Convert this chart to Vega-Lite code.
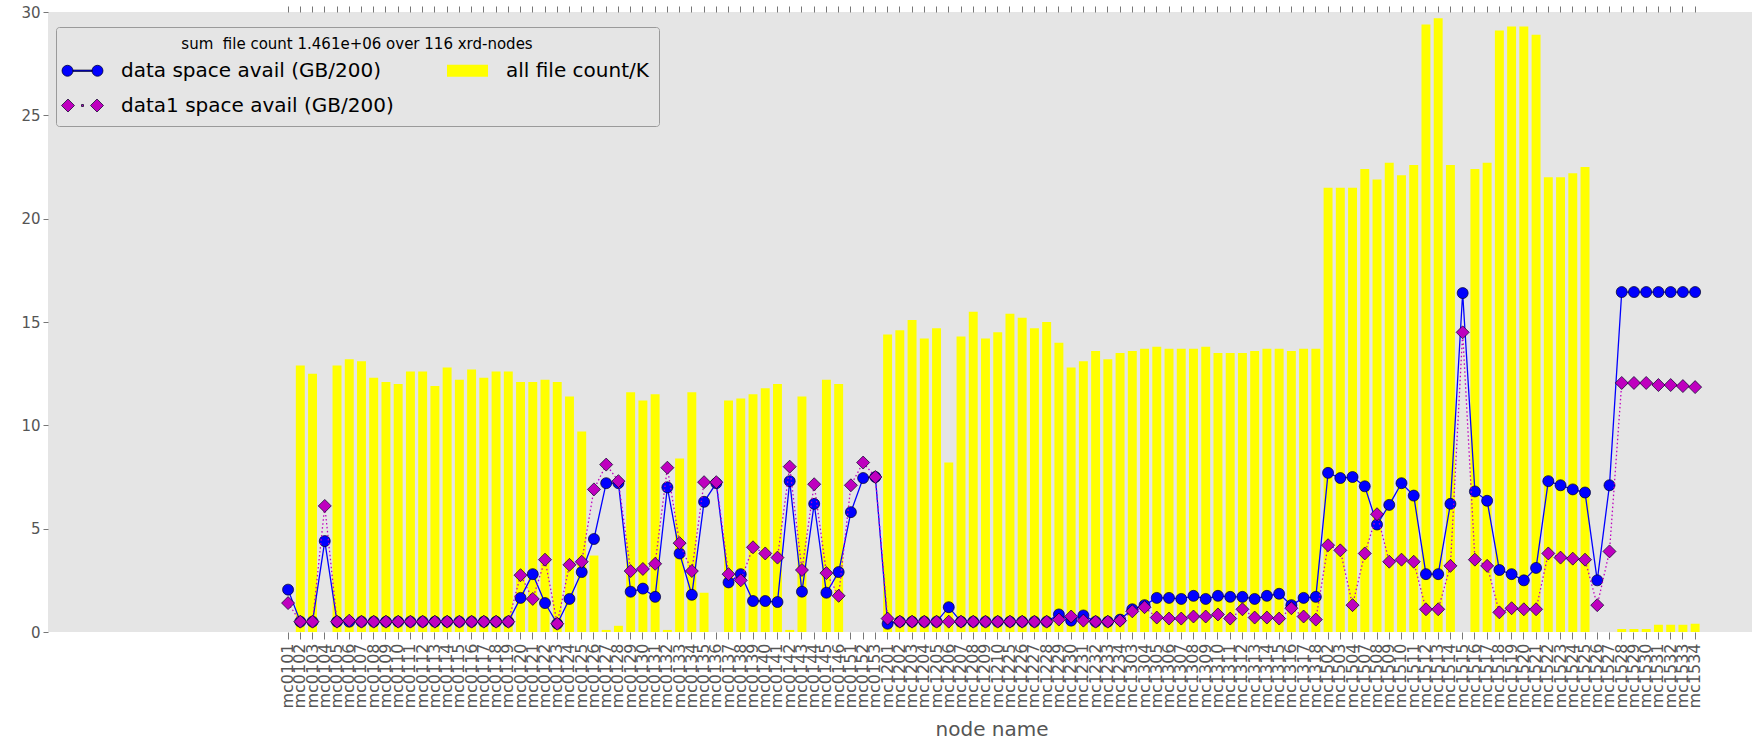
{
  "$schema": "https://vega.github.io/schema/vega-lite/v6.json",
  "width": 1704,
  "height": 620,
  "autosize": {"type": "none"},
  "padding": {"left": 48, "top": 12, "right": 0, "bottom": 112},
  "background": "#ffffff",
  "config": {
    "view": {"fill": "#e5e5e5", "stroke": null},
    "font": "DejaVu Sans",
    "axisX": {"grid": false, "domain": false}
  },
  "data": {"values": [
    {"node": "mc0101", "files": 0, "data": 2.05, "data1": 1.4},
    {"node": "mc0102", "files": 12.9, "data": 0.5, "data1": 0.5},
    {"node": "mc0103", "files": 12.5, "data": 0.5, "data1": 0.5},
    {"node": "mc0104", "files": 0, "data": 4.4, "data1": 6.1},
    {"node": "mc0105", "files": 12.9, "data": 0.5, "data1": 0.5},
    {"node": "mc0106", "files": 13.2, "data": 0.5, "data1": 0.55},
    {"node": "mc0107", "files": 13.1, "data": 0.5, "data1": 0.5},
    {"node": "mc0108", "files": 12.3, "data": 0.5, "data1": 0.5},
    {"node": "mc0109", "files": 12.1, "data": 0.5, "data1": 0.5},
    {"node": "mc0110", "files": 12.0, "data": 0.5, "data1": 0.5},
    {"node": "mc0111", "files": 12.6, "data": 0.5, "data1": 0.5},
    {"node": "mc0112", "files": 12.6, "data": 0.5, "data1": 0.5},
    {"node": "mc0113", "files": 11.9, "data": 0.5, "data1": 0.5},
    {"node": "mc0114", "files": 12.8, "data": 0.5, "data1": 0.5},
    {"node": "mc0115", "files": 12.2, "data": 0.5, "data1": 0.5},
    {"node": "mc0116", "files": 12.7, "data": 0.5, "data1": 0.5},
    {"node": "mc0117", "files": 12.3, "data": 0.5, "data1": 0.5},
    {"node": "mc0118", "files": 12.6, "data": 0.5, "data1": 0.5},
    {"node": "mc0119", "files": 12.6, "data": 0.5, "data1": 0.5},
    {"node": "mc0120", "files": 12.1, "data": 1.65, "data1": 2.75},
    {"node": "mc0121", "files": 12.1, "data": 2.8, "data1": 1.6},
    {"node": "mc0122", "files": 12.2, "data": 1.4, "data1": 3.5},
    {"node": "mc0123", "files": 12.1, "data": 0.4, "data1": 0.4},
    {"node": "mc0124", "files": 11.4, "data": 1.6, "data1": 3.25},
    {"node": "mc0125", "files": 9.7, "data": 2.9, "data1": 3.4},
    {"node": "mc0126", "files": 3.7, "data": 4.5, "data1": 6.9},
    {"node": "mc0127", "files": 0.1, "data": 7.2, "data1": 8.1},
    {"node": "mc0128", "files": 0.3, "data": 7.2, "data1": 7.3},
    {"node": "mc0129", "files": 11.6, "data": 1.95, "data1": 2.95},
    {"node": "mc0130", "files": 11.2, "data": 2.1, "data1": 3.05},
    {"node": "mc0131", "files": 11.5, "data": 1.7, "data1": 3.3},
    {"node": "mc0132", "files": 0.1, "data": 7.0, "data1": 7.95},
    {"node": "mc0133", "files": 8.4, "data": 3.8, "data1": 4.3},
    {"node": "mc0134", "files": 11.6, "data": 1.8, "data1": 2.95},
    {"node": "mc0135", "files": 1.9, "data": 6.3, "data1": 7.25},
    {"node": "mc0136", "files": 0, "data": 7.2, "data1": 7.25},
    {"node": "mc0137", "files": 11.2, "data": 2.4, "data1": 2.8},
    {"node": "mc0138", "files": 11.3, "data": 2.8, "data1": 2.5},
    {"node": "mc0139", "files": 11.5, "data": 1.5, "data1": 4.1},
    {"node": "mc0140", "files": 11.8, "data": 1.5, "data1": 3.8},
    {"node": "mc0141", "files": 12.0, "data": 1.45, "data1": 3.6},
    {"node": "mc0142", "files": 0.1, "data": 7.3, "data1": 8.0},
    {"node": "mc0143", "files": 11.4, "data": 1.95, "data1": 3.0},
    {"node": "mc0144", "files": 0, "data": 6.2, "data1": 7.15},
    {"node": "mc0145", "files": 12.2, "data": 1.9, "data1": 2.85},
    {"node": "mc0146", "files": 12.0, "data": 2.9, "data1": 1.75},
    {"node": "mc0151", "files": 0, "data": 5.8, "data1": 7.1},
    {"node": "mc0152", "files": 0, "data": 7.45, "data1": 8.2},
    {"node": "mc0153", "files": 0, "data": 7.5, "data1": 7.5},
    {"node": "mc1201", "files": 14.4, "data": 0.4, "data1": 0.65},
    {"node": "mc1202", "files": 14.6, "data": 0.5, "data1": 0.5},
    {"node": "mc1203", "files": 15.1, "data": 0.5, "data1": 0.5},
    {"node": "mc1204", "files": 14.2, "data": 0.5, "data1": 0.5},
    {"node": "mc1205", "files": 14.7, "data": 0.5, "data1": 0.5},
    {"node": "mc1206", "files": 8.2, "data": 1.2, "data1": 0.5},
    {"node": "mc1207", "files": 14.3, "data": 0.5, "data1": 0.5},
    {"node": "mc1208", "files": 15.5, "data": 0.5, "data1": 0.5},
    {"node": "mc1209", "files": 14.2, "data": 0.5, "data1": 0.5},
    {"node": "mc1210", "files": 14.5, "data": 0.5, "data1": 0.5},
    {"node": "mc1225", "files": 15.4, "data": 0.5, "data1": 0.5},
    {"node": "mc1226", "files": 15.2, "data": 0.5, "data1": 0.5},
    {"node": "mc1227", "files": 14.7, "data": 0.5, "data1": 0.5},
    {"node": "mc1228", "files": 15.0, "data": 0.5, "data1": 0.5},
    {"node": "mc1229", "files": 14.0, "data": 0.85, "data1": 0.6},
    {"node": "mc1230", "files": 12.8, "data": 0.55, "data1": 0.75},
    {"node": "mc1231", "files": 13.1, "data": 0.8, "data1": 0.55},
    {"node": "mc1232", "files": 13.6, "data": 0.5, "data1": 0.5},
    {"node": "mc1233", "files": 13.2, "data": 0.5, "data1": 0.5},
    {"node": "mc1234", "files": 13.5, "data": 0.6, "data1": 0.55},
    {"node": "mc1303", "files": 13.6, "data": 1.1, "data1": 1.0},
    {"node": "mc1304", "files": 13.7, "data": 1.3, "data1": 1.2},
    {"node": "mc1305", "files": 13.8, "data": 1.65, "data1": 0.7},
    {"node": "mc1306", "files": 13.7, "data": 1.65, "data1": 0.65},
    {"node": "mc1307", "files": 13.7, "data": 1.6, "data1": 0.65},
    {"node": "mc1308", "files": 13.7, "data": 1.75, "data1": 0.75},
    {"node": "mc1309", "files": 13.8, "data": 1.6, "data1": 0.75},
    {"node": "mc1310", "files": 13.5, "data": 1.75, "data1": 0.85},
    {"node": "mc1311", "files": 13.5, "data": 1.7, "data1": 0.65},
    {"node": "mc1312", "files": 13.5, "data": 1.7, "data1": 1.1},
    {"node": "mc1313", "files": 13.6, "data": 1.6, "data1": 0.7},
    {"node": "mc1314", "files": 13.7, "data": 1.75, "data1": 0.7},
    {"node": "mc1315", "files": 13.7, "data": 1.85, "data1": 0.65},
    {"node": "mc1316", "files": 13.6, "data": 1.3, "data1": 1.15},
    {"node": "mc1317", "files": 13.7, "data": 1.65, "data1": 0.75},
    {"node": "mc1318", "files": 13.7, "data": 1.7, "data1": 0.6},
    {"node": "mc1502", "files": 21.5, "data": 7.7, "data1": 4.2},
    {"node": "mc1503", "files": 21.5, "data": 7.45, "data1": 3.95},
    {"node": "mc1504", "files": 21.5, "data": 7.5, "data1": 1.3},
    {"node": "mc1507", "files": 22.4, "data": 7.05, "data1": 3.8},
    {"node": "mc1508", "files": 21.9, "data": 5.2, "data1": 5.7},
    {"node": "mc1509", "files": 22.7, "data": 6.15, "data1": 3.4},
    {"node": "mc1510", "files": 22.1, "data": 7.2, "data1": 3.5},
    {"node": "mc1511", "files": 22.6, "data": 6.6, "data1": 3.4},
    {"node": "mc1512", "files": 29.4, "data": 2.8, "data1": 1.1},
    {"node": "mc1513", "files": 29.7, "data": 2.8, "data1": 1.1},
    {"node": "mc1514", "files": 22.6, "data": 6.2, "data1": 3.2},
    {"node": "mc1515", "files": 0, "data": 16.4, "data1": 14.5},
    {"node": "mc1516", "files": 22.4, "data": 6.8, "data1": 3.5},
    {"node": "mc1517", "files": 22.7, "data": 6.35, "data1": 3.2},
    {"node": "mc1518", "files": 29.1, "data": 3.0, "data1": 0.95},
    {"node": "mc1519", "files": 29.3, "data": 2.8, "data1": 1.15},
    {"node": "mc1520", "files": 29.3, "data": 2.5, "data1": 1.1},
    {"node": "mc1521", "files": 28.9, "data": 3.1, "data1": 1.1},
    {"node": "mc1522", "files": 22.0, "data": 7.3, "data1": 3.8},
    {"node": "mc1523", "files": 22.0, "data": 7.1, "data1": 3.6},
    {"node": "mc1524", "files": 22.2, "data": 6.9, "data1": 3.55},
    {"node": "mc1525", "files": 22.5, "data": 6.75, "data1": 3.5},
    {"node": "mc1526", "files": 0, "data": 2.5, "data1": 1.3},
    {"node": "mc1527", "files": 0, "data": 7.1, "data1": 3.9},
    {"node": "mc1528", "files": 0.15, "data": 16.45, "data1": 12.05},
    {"node": "mc1529", "files": 0.15, "data": 16.45, "data1": 12.05},
    {"node": "mc1530", "files": 0.15, "data": 16.45, "data1": 12.05},
    {"node": "mc1531", "files": 0.35, "data": 16.45, "data1": 11.95},
    {"node": "mc1532", "files": 0.35, "data": 16.45, "data1": 11.95},
    {"node": "mc1533", "files": 0.35, "data": 16.45, "data1": 11.9},
    {"node": "mc1534", "files": 0.4, "data": 16.45, "data1": 11.85}
  ]},
  "resolve": {"axis": {"x": "independent"}},
  "layer": [
    {
      "mark": {"type": "bar", "opacity": 1},
      "encoding": {
        "x": {"field": "node", "type": "nominal", "sort": null,
          "scale": {"type": "band", "paddingInner": 0.27, "paddingOuter": 0, "range": [235.6, 1651.6], "round": false},
          "axis": {"orient": "bottom", "title": "node name", "labelAngle": -90, "labelFontSize": 16, "labelColor": "#555555", "labelOverlap": false, "labelPadding": 4, "tickSize": 7, "tickColor": "#777777", "titleFontSize": 20, "titleFontWeight": "normal", "titleColor": "#555555", "titlePadding": 11}},
        "y": {"field": "files", "type": "quantitative", "title": null, "scale": {"domain": [0, 30], "nice": false},
          "axis": {"values": [0, 5, 10, 15, 20, 25, 30], "grid": false, "domain": false, "tickSize": 5, "tickColor": "#777777", "labelColor": "#555555", "labelFontSize": 15, "labelPadding": 3}},
        "color": {"datum": "all file count/K", "type": "nominal",
          "scale": {"domain": ["data space avail (GB/200)", "data1 space avail (GB/200)", "all file count/K"], "range": ["#0000ff", "#bf00bf", "#ffff00"]},
          "legend": {
            "title": "sum \u00a0file count 1.461e+06 over 116 xrd-nodes",
            "orient": "none", "legendX": 8, "legendY": 15,
            "columns": 2, "columnPadding": 51, "rowPadding": 14,
            "symbolSize": 400, "symbolOffset": 6, "labelOffset": 28,
            "labelFontSize": 20, "labelColor": "#000000", "labelLimit": 0,
            "titleFontSize": 15, "titleFontWeight": "normal", "titleColor": "#000000", "titleAnchor": "middle", "titlePadding": 8, "titleLimit": 0,
            "padding": 10, "fillColor": "#e5e5e5", "strokeColor": "#9a9a9a", "cornerRadius": 3,
            "encoding": {"symbols": {
              "shape": {"value": {"signal": "datum.value === 'all file count/K' ? 'M-2.05,-0.6H2.05V0.6H-2.05Z' : datum.value === 'data space avail (GB/200)' ? 'M-2.05,0A0.55,0.55 0 1,0 -0.95,0A0.55,0.55 0 1,0 -2.05,0Z M0.95,0A0.55,0.55 0 1,0 2.05,0A0.55,0.55 0 1,0 0.95,0Z M-0.95,-0.07H0.95V0.07H-0.95Z' : 'M-2.1,0L-1.45,-0.65L-0.8,0L-1.45,0.65Z M0.8,0L1.45,-0.65L2.1,0L1.45,0.65Z M-0.1,-0.1H0.1V0.1H-0.1Z'"}},
              "stroke": {"value": {"signal": "datum.value === 'all file count/K' ? 'transparent' : '#000022'"}},
              "strokeWidth": {"value": 0.7},
              "opacity": {"value": 1}
            }}
          }}
      }
    },
    {
      "mark": {"type": "line", "color": "#0000ff", "strokeWidth": 1.3},
      "encoding": {
        "x": {"field": "node", "type": "nominal", "sort": null,
          "axis": {"orient": "top", "labels": false, "title": null, "tickSize": 6, "tickColor": "#777777"}},
        "y": {"field": "data", "type": "quantitative", "title": null}
      }
    },
    {
      "mark": {"type": "point", "shape": "circle", "filled": true, "size": 121, "stroke": "#000022", "strokeWidth": 0.7, "opacity": 1},
      "encoding": {
        "x": {"field": "node", "type": "nominal", "sort": null, "axis": null},
        "y": {"field": "data", "type": "quantitative", "title": null},
        "color": {"datum": "data space avail (GB/200)", "type": "nominal"}
      }
    },
    {
      "mark": {"type": "line", "color": "#bf00bf", "strokeWidth": 1.3, "strokeDash": [1.5, 2.5]},
      "encoding": {
        "x": {"field": "node", "type": "nominal", "sort": null, "axis": null},
        "y": {"field": "data1", "type": "quantitative", "title": null}
      }
    },
    {
      "mark": {"type": "point", "shape": "diamond", "filled": true, "size": 169, "stroke": "#000022", "strokeWidth": 0.7, "opacity": 1},
      "encoding": {
        "x": {"field": "node", "type": "nominal", "sort": null, "axis": null},
        "y": {"field": "data1", "type": "quantitative", "title": null},
        "color": {"datum": "data1 space avail (GB/200)", "type": "nominal"}
      }
    }
  ]
}
